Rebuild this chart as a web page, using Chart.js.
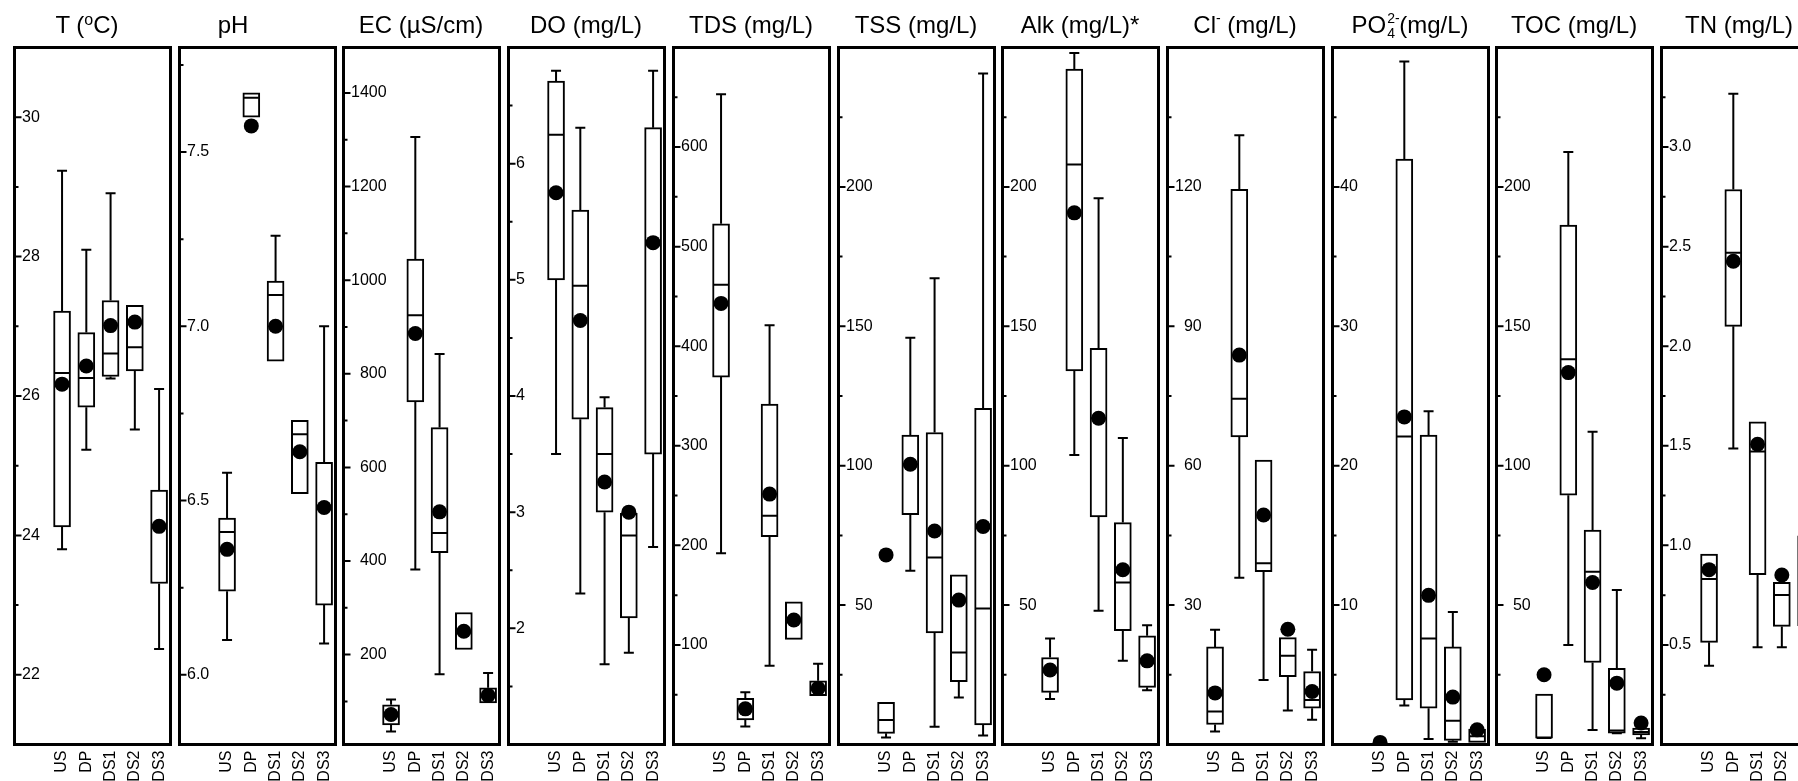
<!DOCTYPE html>
<html>
<head>
<meta charset="utf-8">
<script src="https://cdn.jsdelivr.net/npm/chart.js@4.4.1/dist/chart.umd.min.js"></script>
<style>
    html, body { margin: 0; padding: 0; background: #fff; overflow: hidden; }
    body { position: relative; width: 1798px; height: 781px; font-family: "Liberation Sans", Arial, sans-serif; color: #000; }
    .panel { position: absolute; top: 0; }
    .panel canvas { display: block; }
    .title { position: absolute; top: 10px; font-size: 24px; line-height: 30px; white-space: nowrap; transform: translateX(-50%); }
    .title sup { font-size: 16px; line-height: 0; vertical-align: 8px; }
    .title sup.ion { font-size: 14px; vertical-align: 10px; }
    .ss { position: relative; display: inline-block; width: 13px; height: 1px; }
    .ss span { position: absolute; left: 1px; font-size: 14px; line-height: 14px; }
    .ss .up { top: -21px; }
    .ss .dn { top: -6px; }
</style>
</head>
<body>
<script>
const categories = ['US', 'DP', 'DS1', 'DS2', 'DS3'];

const titles = [
    'T (<sup>o</sup>C)', 'pH', 'EC (µS/cm)', 'DO (mg/L)', 'TDS (mg/L)', 'TSS (mg/L)',
    'Alk (mg/L)*', 'Cl<sup class="ion">-</sup> (mg/L)',
    'PO<span class="ss"><span class="up">2-</span><span class="dn">4</span></span>(mg/L)',
    'TOC (mg/L)', 'TN (mg/L)'
];

// y axis of each panel
const yMin      = [21, 5.8, 8,    1, 0,   0,   0,   0,   0,  0,   0];
const yMax      = [31, 7.8, 1497, 7, 700, 250, 250, 150, 50, 250, 3.5];
const labelStep = [2, 0.5,  200,  1,   100, 50, 50, 30, 10, 50, 0.5];
const minorStep = [1, 0.25, 100,  0.5, 50,  25, 25, 15, 5,  25, 0.25];
const decimals  = [0, 1, 0, 0, 0, 0, 0, 0, 0, 0, 1];

// one row per panel (T, pH, EC, DO, TDS, TSS, Alk, Cl, PO4, TOC, TN), columns = categories
const whiskerLow = [
    [23.80, 25.23, 26.25, 25.52, 22.37],
    [6.10, 7.60, 6.90, 6.52, 6.09],
    [36, 382, 158, 211, 97],
    [3.50, 2.30, 1.69, 1.79, 2.70],
    [192, 18, 79, 105.6, 49],
    [2.5, 62.3, 6.4, 16.9, 3.2],
    [16.3, 103.8, 48, 30.0, 19.5],
    [2.8, 35.9, 13.9, 7.3, 5.3],
    [0, 2.8, 0.4, 0.2, 0.15],
    [2.3, 35.7, 5.2, 4.0, 2.2],
    [0.396, 1.486, 0.488, 0.488, 0.597]
];
const boxLow = [
    [24.12, 25.84, 26.28, 26.36, 23.31],
    [6.24, 7.60, 6.90, 6.52, 6.20],
    [50, 740, 418, 211, 97],
    [5.00, 3.80, 3.00, 2.09, 3.50],
    [369, 24.8, 208.6, 105.6, 49],
    [4.0, 82.4, 40.0, 22.5, 7.0],
    [18.7, 134, 81.6, 40.8, 20.5],
    [4.3, 66.2, 37.2, 14.6, 7.8],
    [0, 3.2, 2.6, 0.3, 0.15],
    [2.3, 89.4, 29.4, 4.1, 3.4],
    [0.513, 2.10, 0.853, 0.593, 0.597]
];
const medians = [
    [26.33, 26.26, 26.61, 26.70, 24.15],
    [6.41, 7.656, 7.09, 6.69, 6.48],
    [72, 925, 460, 250, 113],
    [6.25, 4.95, 3.50, 2.80, 5.32],
    [461.7, 36, 229.7, 125, 56.5],
    [8.8, 100.5, 67.1, 33.0, 48.8],
    [26.7, 208, 117, 58.1, 30],
    [7.1, 74.4, 39.0, 19.1, 9.6],
    [0, 22.1, 7.6, 1.7, 0.6],
    [2.3, 138.2, 62.0, 5.0, 4.5],
    [0.831, 2.469, 1.471, 0.751, 0.8]
];
const boxHigh = [
    [27.22, 26.91, 27.37, 27.30, 24.65],
    [6.45, 7.67, 7.13, 6.73, 6.61],
    [93, 1045, 685, 290, 129],
    [6.71, 5.60, 3.90, 2.99, 6.31],
    [523, 46.4, 342, 143.4, 64],
    [15.1, 111, 111.9, 60.9, 120.6],
    [31.2, 242.3, 142.1, 79.6, 39.0],
    [21.0, 119.5, 61.2, 23.0, 15.7],
    [0, 42.0, 22.2, 7.0, 1.1],
    [18.1, 186.3, 76.9, 27.3, 5.9],
    [0.956, 2.787, 1.62, 0.814, 1.048]
];
const whiskerHigh = [
    [29.23, 28.10, 28.91, 27.30, 26.10],
    [6.58, 7.67, 7.26, 6.73, 7.00],
    [104, 1306, 842, 290, 161],
    [6.80, 6.31, 3.99, 2.99, 6.80],
    [653, 52.5, 421, 143.4, 81],
    [15.1, 145.9, 167.2, 60.9, 240.7],
    [38.0, 248, 195.9, 109.9, 42.8],
    [24.7, 131.1, 61.2, 23.0, 20.4],
    [0, 49.0, 23.9, 9.5, 1.1],
    [18.1, 212.5, 112.2, 55.4, 5.9],
    [0.956, 3.268, 1.62, 0.814, 1.048]
];
const means = [
    [26.17, 26.43, 27.01, 27.06, 24.13],
    [6.36, 7.575, 7.00, 6.64, 6.48],
    [72, 886, 505, 250, 113],
    [5.75, 4.65, 3.26, 3.00, 5.32],
    [443, 35.8, 251.5, 125, 56.5],
    [68.0, 100.5, 76.6, 51.8, 78.2],
    [26.7, 190.7, 117, 62.7, 30.0],
    [11.1, 83.8, 49.4, 24.8, 11.4],
    [0.15, 23.5, 10.7, 3.4, 1.05],
    [25.0, 133.4, 58.1, 22.0, 7.7],
    [0.878, 2.427, 1.508, 0.851, 0.85]
];

// layout
const PANEL_PITCH = 164.7;
const CANVAS_W = 164, CANVAS_H = 781;
const titleShift = [-5, -24, 0, 0, 0, 0, 0, 0, 0, 0, 0];
const FONT = '"Liberation Sans", Arial, sans-serif';

Chart.defaults.font.family = FONT;
Chart.defaults.font.size = 16;
Chart.defaults.color = '#000';
Chart.defaults.animation = false;

function tickValues(p) {
    const vals = [];
    const step = minorStep[p];
    for (let k = Math.ceil(yMin[p] / step - 1e-9); k * step <= yMax[p] + 1e-9; k++) {
        const v = Math.round(k * step * 1e6) / 1e6;
        if (v > yMin[p] + 1e-6 && v < yMax[p] - 1e-6) vals.push(v);
    }
    return vals;
}

function isLabelled(p, v) {
    const r = v / labelStep[p];
    return Math.abs(r - Math.round(r)) < 1e-6;
}

// whiskers, caps and median lines, drawn right after the boxes
const boxPlot = {
    id: 'boxPlot',
    afterDatasetDraw(chart, args, opts) {
        if (args.meta.type !== 'bar') return;
        const p = opts.panel;
        const { ctx, scales: { x, y } } = chart;
        ctx.save();
        ctx.strokeStyle = '#000';
        ctx.lineWidth = 2;
        ctx.beginPath();
        categories.forEach((c, j) => {
            const cx = x.getPixelForValue(j);
            const q1 = y.getPixelForValue(boxLow[p][j]);
            const q3 = y.getPixelForValue(boxHigh[p][j]);
            const lo = y.getPixelForValue(whiskerLow[p][j]);
            const hi = y.getPixelForValue(whiskerHigh[p][j]);
            const md = y.getPixelForValue(medians[p][j]);
            if (whiskerHigh[p][j] > boxHigh[p][j]) {
                ctx.moveTo(cx, q3); ctx.lineTo(cx, hi);
                ctx.moveTo(cx - 5, hi); ctx.lineTo(cx + 5, hi);
            }
            if (whiskerLow[p][j] < boxLow[p][j]) {
                ctx.moveTo(cx, q1); ctx.lineTo(cx, lo);
                ctx.moveTo(cx - 5, lo); ctx.lineTo(cx + 5, lo);
            }
            ctx.moveTo(cx - 7.5, md); ctx.lineTo(cx + 7.5, md);
        });
        ctx.stroke();
        ctx.restore();
    }
};

// panel frame, inward y tick marks and the rotated category names
const frame = {
    id: 'frame',
    afterDraw(chart) {
        const { ctx, chartArea: a, scales: { x, y } } = chart;
        ctx.save();
        ctx.strokeStyle = '#000';
        ctx.lineWidth = 2;
        ctx.beginPath();
        y.ticks.forEach(t => {
            const py = y.getPixelForValue(t.value);
            const len = t.label ? 7 : 4;
            ctx.moveTo(a.left, py); ctx.lineTo(a.left + len, py);
        });
        ctx.stroke();
        ctx.lineWidth = 3;
        ctx.strokeRect(a.left, a.top, a.right - a.left, a.bottom - a.top);

        ctx.fillStyle = '#000';
        ctx.font = '16px ' + FONT;
        ctx.textAlign = 'right';
        ctx.textBaseline = 'middle';
        categories.forEach((c, j) => {
            ctx.save();
            ctx.translate(x.getPixelForValue(j), a.bottom + 6);
            ctx.rotate(-Math.PI / 2);
            ctx.fillText(c, 0, 0);
            ctx.restore();
        });
        ctx.restore();
    }
};

function makePanel(p) {
    const outer = Math.round(13 + p * PANEL_PITCH);

    const wrap = document.createElement('div');
    wrap.className = 'panel';
    wrap.style.left = (outer - 2) + 'px';
    wrap.style.width = CANVAS_W + 'px';
    wrap.style.height = CANVAS_H + 'px';
    const canvas = document.createElement('canvas');
    canvas.width = CANVAS_W;
    canvas.height = CANVAS_H;
    wrap.appendChild(canvas);
    document.body.appendChild(wrap);

    const title = document.createElement('div');
    title.className = 'title';
    title.innerHTML = titles[p];
    title.style.left = (outer + 79 + titleShift[p]) + 'px';
    document.body.appendChild(title);

    new Chart(canvas, {
        type: 'bar',
        data: {
            datasets: [{
                type: 'bar',
                order: 2,
                data: categories.map((c, j) => ({ x: j, y: [boxLow[p][j], boxHigh[p][j]] })),
                backgroundColor: '#fff',
                borderColor: '#000',
                borderWidth: 2,
                borderSkipped: false,
                barThickness: 17
            }, {
                type: 'scatter',
                order: 1,
                data: categories.map((c, j) => ({ x: j, y: means[p][j] })),
                backgroundColor: '#000',
                borderWidth: 0,
                pointRadius: 7.5,
                clip: 0
            }]
        },
        options: {
            responsive: false,
            devicePixelRatio: 1,
            layout: { autoPadding: false, padding: { left: 3.5, right: 4.5, top: 47.5, bottom: 36.5 } },
            plugins: {
                legend: { display: false },
                tooltip: { enabled: false },
                boxPlot: { panel: p }
            },
            scales: {
                x: {
                    type: 'linear',
                    min: -1.96,
                    max: 4.47,
                    offset: false,
                    grid: { display: false, drawTicks: false },
                    border: { display: false },
                    ticks: { display: false },
                    afterFit: s => { s.height = 0; }
                },
                y: {
                    min: yMin[p],
                    max: yMax[p],
                    grid: { display: false, drawTicks: false },
                    border: { display: false },
                    afterBuildTicks: s => { s.ticks = tickValues(p).map(v => ({ value: v })); },
                    afterFit: s => { s.width = 0; },
                    ticks: {
                        mirror: true,
                        crossAlign: 'far',
                        padding: 7.5,
                        autoSkip: false,
                        font: { size: 16 },
                        color: '#000',
                        callback: v => isLabelled(p, v) ? v.toFixed(decimals[p]) : ''
                    }
                }
            }
        },
        plugins: [boxPlot, frame]
    });
}

titles.forEach((t, p) => makePanel(p));
</script>
</body>
</html>
